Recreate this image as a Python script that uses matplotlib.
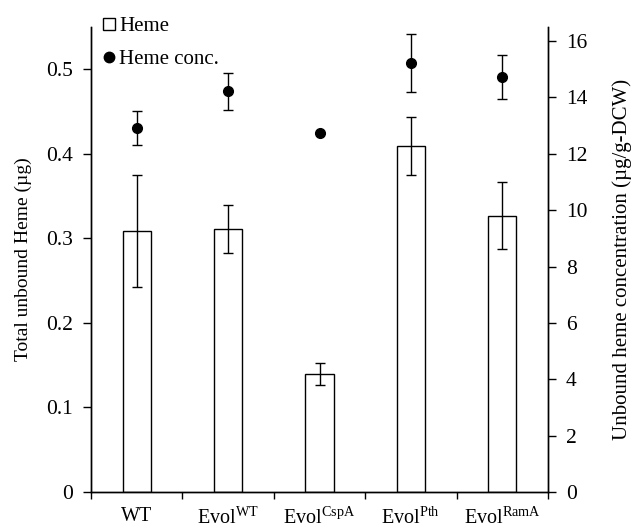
import matplotlib
matplotlib.use("Agg")
import matplotlib.pyplot as plt
from matplotlib.lines import Line2D
import numpy as np

plt.rcParams['font.family'] = ['Liberation Serif', 'DejaVu Serif']
plt.rcParams['mathtext.fontset'] = 'custom'
plt.rcParams['mathtext.rm'] = 'Liberation Serif'

strains = ['WT', 'Evol$^{\\mathrm{WT}}$', 'Evol$^{\\mathrm{CspA}}$',
           'Evol$^{\\mathrm{Pth}}$', 'Evol$^{\\mathrm{RamA}}$']
heme_total = [0.309, 0.311, 0.139, 0.409, 0.327]
heme_total_err = [0.066, 0.028, 0.013, 0.034, 0.040]
heme_conc = [12.93, 14.22, 12.73, 15.23, 14.73]
heme_conc_err = [0.60, 0.65, 0.0, 1.02, 0.78]

fig = plt.figure(figsize=(6.35, 5.28), dpi=100)
ax = fig.add_axes([0.1433, 0.0682, 0.7197, 0.8807])
ax2 = ax.twinx()

x = np.arange(len(strains)) + 0.5
ax.bar(x, heme_total, width=0.31, color='white', edgecolor='black', linewidth=1.0,
       yerr=heme_total_err, error_kw=dict(elinewidth=1.0, capsize=3.5, capthick=1.0, ecolor='black'))
ax2.errorbar(x, heme_conc, yerr=heme_conc_err, fmt='o', color='black', markersize=7,
             elinewidth=1.0, capsize=3.5, capthick=1.0)

ax.set_xlim(0, 5)
ax.set_ylim(0, 0.55)
ax2.set_ylim(0, 16.5)
ax.set_yticks([0, 0.1, 0.2, 0.3, 0.4, 0.5])
ax.set_yticklabels(['0', '0.1', '0.2', '0.3', '0.4', '0.5'])
ax2.set_yticks([0, 2, 4, 6, 8, 10, 12, 14, 16])

# category boundaries get the tick marks, labels sit at the centres
ax.set_xticks(np.arange(0, 6))
ax.set_xticklabels([])
ax.set_xticks(x, minor=True)
ax.set_xticklabels(strains, minor=True)
ax.tick_params(axis='x', which='minor', length=0, pad=11, labelsize=14.5)
ax.tick_params(axis='x', which='major', length=5, direction='out', width=1)
ax.tick_params(axis='y', length=6, direction='out', width=1, labelsize=15.5, pad=7)
ax2.tick_params(axis='y', length=6, direction='out', width=1, labelsize=15.5, pad=7)

for a in (ax, ax2):
    a.spines['top'].set_visible(False)
    for s in ('left', 'right', 'bottom'):
        a.spines[s].set_linewidth(1.0)

ax.set_ylabel('Total unbound Heme (µg)', fontsize=14, labelpad=10)
ax2.set_ylabel('Unbound heme concentration (µg/g-DCW)', fontsize=15, labelpad=18)

handles = [Line2D([], [], marker='s', linestyle='none', markerfacecolor='white',
                  markeredgecolor='black', markersize=8, markeredgewidth=1.0),
           Line2D([], [], marker='o', linestyle='none', color='black', markersize=7.5)]
ax2.legend(handles, ['Heme', 'Heme conc.'], loc='upper left', bbox_to_anchor=(0.0, 1.045),
           frameon=False, fontsize=15, handlelength=0.7, handletextpad=0.15,
           labelspacing=0.65, borderpad=0)

fig.savefig('out.png', dpi=100)
